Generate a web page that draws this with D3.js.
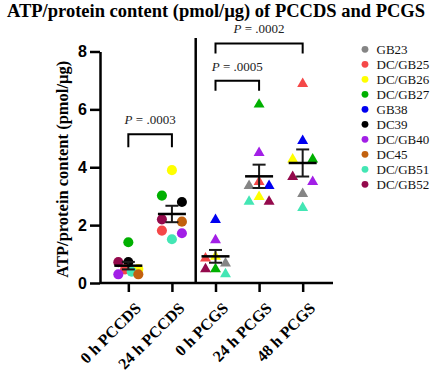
<!DOCTYPE html>
<html>
<head>
<meta charset="utf-8">
<script src="https://cdn.jsdelivr.net/npm/d3@7"></script>
<style>
  body { margin: 0; background: #fff; }
  svg { display: block; }
</style>
</head>
<body>
<div id="chart"></div>
<script>
// categories on the x axis
const groups = ["0 h PCCDS", "24 h PCCDS", "0 h PCGS", "24 h PCGS", "48 h PCGS"];

// donors (legend order) and their colours
const donors = ["GB23", "DC/GB25", "DC/GB26", "DC/GB27", "GB38", "DC39", "DC/GB40", "DC45", "DC/GB51", "DC/GB52"];
const donorColors = ["#858585", "#f54848", "#ffff00", "#00b000", "#0000f0", "#000000", "#a21fe6", "#c2610f", "#43e6b4", "#940a4c"];

// ATP/protein values per donor (same order as donors), null = not measured
const pccds0  = [null, 0.47, 0.48, 1.41, null, 0.72, 0.30, 0.30, 0.39, 0.72];
const pccds24 = [null, 1.81, 3.90, 3.02, null, 2.80, 1.72, 2.12, 1.51, 2.20];
const pcgs0   = [0.68, 0.85, 0.91, 0.48, 2.18, null, 1.48, null, 0.31, 0.48];
const pcgs24  = [3.36, 3.50, 2.98, 6.17, 3.36, null, 4.50, null, 2.81, 2.81];
const pcgs48  = [3.08, 6.88, 4.27, 4.27, 4.91, null, 3.50, null, 2.60, 3.67];

// comparisons
const comparisons = [
  { from: "0 h PCCDS", to: "24 h PCCDS", p: ".0003" },
  { from: "0 h PCGS", to: "24 h PCGS", p: ".0005" },
  { from: "0 h PCGS", to: "48 h PCGS", p: ".0002" },
];

const yTicks = [0, 2, 4, 6, 8];

//---------------------------------------------------------------------------------------

const width = 432;
const height = 377;
const serif = "'Liberation Serif', 'Times New Roman', Times, serif";
const sans = "'Liberation Sans', Arial, Helvetica, sans-serif";

const series = [pccds0, pccds24, pcgs0, pcgs24, pcgs48];

const svg = d3.select("#chart")
  .append("svg")
  .attr("width", width)
  .attr("height", height);

const x = d3.scalePoint()
  .domain(groups)
  .range([100, 331])
  .padding(0.65);

const y = d3.scaleLinear()
  .domain([0, 8])
  .range([283, 51.5]);

// titre
svg.append("text")
  .attr("x", width / 2)
  .attr("y", 17)
  .attr("text-anchor", "middle")
  .style("font", `bold 18.5px ${serif}`)
  .text("ATP/protein content (pmol/µg) of PCCDS and PCGS");

// axe Y
const yAxis = svg.append("g")
  .attr("transform", "translate(100,0)")
  .call(d3.axisLeft(y).tickValues(yTicks).tickSize(10).tickSizeOuter(0).tickPadding(3).tickFormat(d3.format("d")));

yAxis.selectAll("path, line").attr("stroke", "#000").attr("stroke-width", 2.5);
yAxis.selectAll("text")
  .style("font", `bold 16px ${sans}`)
  .attr("fill", "#000");

svg.append("text")
  .attr("transform", `translate(68, ${(y(0) + y(8)) / 2 + 2}) rotate(-90)`)
  .attr("text-anchor", "middle")
  .style("font", `bold 16.5px ${serif}`)
  .text("ATP/protein content (pmol/µg)");

// axe X
const xAxis = svg.append("g")
  .attr("transform", `translate(0, ${y(0)})`)
  .call(d3.axisBottom(x).tickSize(9).tickSizeOuter(0).tickPadding(4));

xAxis.select(".domain").remove();
xAxis.selectAll("line").attr("stroke", "#000").attr("stroke-width", 2.5);
xAxis.selectAll("text")
  .style("font", `bold 16px ${serif}`)
  .attr("fill", "#000")
  .attr("text-anchor", "end")
  .attr("dy", null)
  .attr("transform", "translate(4, 17) rotate(-45)");

svg.append("line")
  .attr("x1", 100).attr("x2", 333)
  .attr("y1", y(0)).attr("y2", y(0))
  .attr("stroke", "#000")
  .attr("stroke-width", 2.5);

// séparation PCCDS / PCGS
const sepX = (x(groups[1]) + x(groups[2])) / 2 + 2;
svg.append("line")
  .attr("x1", sepX).attr("x2", sepX)
  .attr("y1", 38).attr("y2", y(0))
  .attr("stroke", "#000")
  .attr("stroke-width", 2.5);

//---------------------------------------------------------------------------------------

// répartition horizontale des points proches (façon Prism)
function dodge(vals) {
  const pts = vals.map((v, k) => ({ v, k })).filter(d => d.v != null).sort((a, b) => b.v - a.v);
  const clusters = [];
  for (const p of pts) {
    const c = clusters[clusters.length - 1];
    if (c && c[0].v - p.v < 0.25) c.push(p);
    else clusters.push([p]);
  }
  clusters.forEach(c => {
    const n = c.length;
    const slots = n === 1 ? [0] : d3.range(n).map(j => -10 + 20 * j / (n - 1));
    slots.sort((a, b) => Math.abs(a) - Math.abs(b) || a - b);
    c.forEach((p, j) => { p.dx = slots[j]; });
  });
  return pts;
}

const plot = svg.append("g");

series.forEach((vals, i) => {
  const g = groups[i];
  const isCircle = g.includes("PCCDS");
  const sym = d3.symbol().type(isCircle ? d3.symbolCircle : d3.symbolTriangle).size(isCircle ? 80 : 52);
  const pts = dodge(vals);

  plot.append("g")
    .selectAll("path")
    .data(pts)
    .join("path")
    .attr("d", sym)
    .attr("transform", d => `translate(${x(g) + d.dx}, ${y(d.v)})`)
    .attr("fill", d => donorColors[d.k]);
});

// moyenne + SEM
series.forEach((vals, i) => {
  const cx = x(groups[i]);
  const m = d3.mean(vals);
  const sem = d3.deviation(vals) / Math.sqrt(d3.count(vals));

  const eb = svg.append("g").attr("stroke", "#1a1a1a").attr("stroke-width", 2);
  eb.append("line").attr("x1", cx).attr("x2", cx).attr("y1", y(m - sem)).attr("y2", y(m + sem));
  eb.append("line").attr("x1", cx - 6.5).attr("x2", cx + 6.5).attr("y1", y(m + sem)).attr("y2", y(m + sem));
  eb.append("line").attr("x1", cx - 6.5).attr("x2", cx + 6.5).attr("y1", y(m - sem)).attr("y2", y(m - sem));
  eb.append("line").attr("x1", cx - 14).attr("x2", cx + 14).attr("y1", y(m)).attr("y2", y(m))
    .attr("stroke", "#000").attr("stroke-width", 2.5);
});

//---------------------------------------------------------------------------------------

// crochets des p-values
const bracketLevel = [5.14, 6.99, 8.28];
const bracketLeg = [13, 10, 10];

comparisons.forEach((c, i) => {
  const x1 = x(c.from);
  const x2 = x(c.to);
  const yb = y(bracketLevel[i]);
  svg.append("path")
    .attr("d", `M${x1},${yb + bracketLeg[i]}V${yb}H${x2}V${yb + bracketLeg[i]}`)
    .attr("fill", "none")
    .attr("stroke", "#000")
    .attr("stroke-width", 2);

  const t = svg.append("text")
    .attr("x", (x1 + x2) / 2)
    .attr("y", yb - 10)
    .attr("text-anchor", "middle")
    .style("font", `13px ${serif}`)
    .attr("fill", "#222");
  t.append("tspan").style("font-style", "italic").text("P");
  t.append("tspan").text(` = ${c.p}`);
});

// légende
const legend = svg.append("g").attr("transform", "translate(365, 49.3)");
const items = legend.selectAll("g")
  .data(donors)
  .join("g")
  .attr("transform", (d, i) => `translate(0, ${i * 15})`);

items.append("circle")
  .attr("r", 3.4)
  .attr("fill", (d, i) => donorColors[i]);

items.append("text")
  .attr("x", 11.5)
  .attr("dy", "0.35em")
  .style("font", `13px ${serif}`)
  .attr("fill", "#111")
  .text(d => d);
</script>
</body>
</html>
